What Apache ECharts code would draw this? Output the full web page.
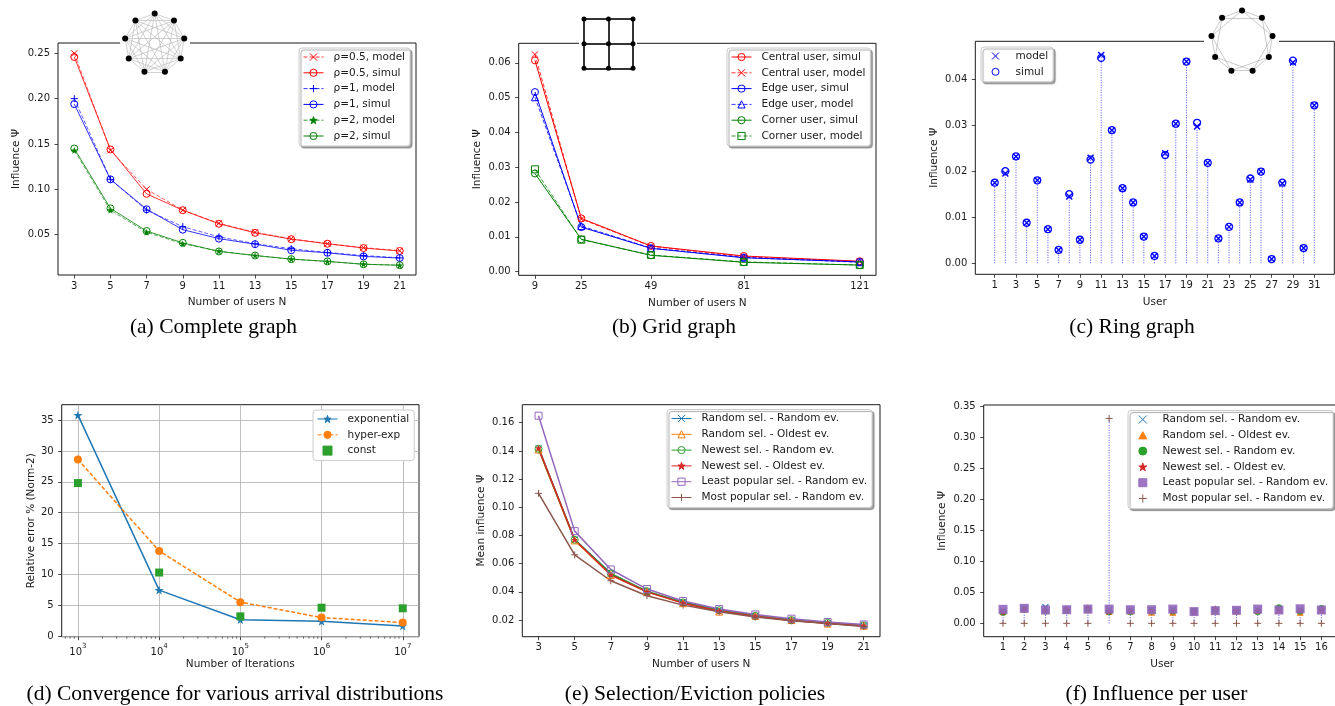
<!DOCTYPE html>
<html>
<head>
<meta charset="utf-8">
<script src="https://cdn.jsdelivr.net/npm/echarts@6/dist/echarts.min.js"></script>
<style>
  html, body { margin: 0; background: #fff; }
  #chart { width: 1335px; height: 706px; }
</style>
</head>
<body>
<div id="chart"></div>
<script>
// ---- (a) complete graph ----
const usersA = [3, 5, 7, 9, 11, 13, 15, 17, 19, 21];
const rho05Model = [0.250, 0.143, 0.100, 0.077, 0.0625, 0.0526, 0.0455, 0.040, 0.0357, 0.0323];
const rho05Simul = [0.246, 0.144, 0.095, 0.077, 0.062, 0.052, 0.045, 0.040, 0.0352, 0.032];
const rho1Model = [0.200, 0.111, 0.077, 0.0588, 0.0476, 0.040, 0.0345, 0.0303, 0.027, 0.0244];
const rho1Simul = [0.194, 0.111, 0.078, 0.0555, 0.0456, 0.0395, 0.0328, 0.030, 0.026, 0.0242];
const rho2Model = [0.143, 0.077, 0.0526, 0.040, 0.0318, 0.027, 0.023, 0.0204, 0.0175, 0.0162];
const rho2Simul = [0.145, 0.079, 0.054, 0.041, 0.0315, 0.027, 0.023, 0.0205, 0.0173, 0.0163];

// ---- (b) grid graph ----
const usersB = [9, 25, 49, 81, 121];
const centralSimul = [0.0607, 0.0153, 0.0074, 0.0045, 0.0030];
const centralModel = [0.0624, 0.0151, 0.0073, 0.0043, 0.0029];
const edgeSimul = [0.0516, 0.0128, 0.0067, 0.0040, 0.0028];
const edgeModel = [0.0501, 0.0131, 0.0068, 0.0041, 0.0027];
const cornerSimul = [0.0282, 0.0093, 0.0047, 0.0027, 0.0019];
const cornerModel = [0.0294, 0.0092, 0.0048, 0.0028, 0.0019];

// ---- (c) ring graph ----
const usersC = [1, 2, 3, 4, 5, 6, 7, 8, 9, 10, 11, 12, 13, 14, 15, 16, 17, 18, 19, 20, 21, 22, 23, 24, 25, 26, 27, 28, 29, 30, 31];
const ringModel = [0.0175, 0.0195, 0.0232, 0.0088, 0.0180, 0.0074, 0.0029, 0.0145, 0.0051, 0.0229, 0.0452, 0.0289, 0.0163, 0.0132, 0.0058, 0.0016,
                   0.0239, 0.0303, 0.0438, 0.0297, 0.0218, 0.0054, 0.0079, 0.0132, 0.0182, 0.0199, 0.0009, 0.0173, 0.0436, 0.0033, 0.0343];
const ringSimul = [0.0175, 0.0200, 0.0232, 0.0088, 0.0180, 0.0074, 0.0029, 0.0150, 0.0051, 0.0225, 0.0446, 0.0289, 0.0163, 0.0132, 0.0058, 0.0016,
                   0.0235, 0.0303, 0.0438, 0.0305, 0.0218, 0.0054, 0.0079, 0.0132, 0.0184, 0.0199, 0.0009, 0.0175, 0.0440, 0.0033, 0.0343];

// ---- (d) convergence ----
const iterations = [1e3, 1e4, 1e5, 1e6, 1e7];
const errExp = [35.8, 7.45, 2.65, 2.4, 1.65];
const errHyper = [28.6, 13.8, 5.5, 3.0, 2.2];
const errConst = [24.8, 10.3, 3.2, 4.6, 4.5];

// ---- (e) selection / eviction policies ----
const usersE = [3, 5, 7, 9, 11, 13, 15, 17, 19, 21];
const eRandRand = [0.142, 0.0772, 0.0531, 0.0400, 0.0328, 0.0271, 0.0231, 0.0200, 0.0179, 0.0160];
const eRandOld = [0.141, 0.0765, 0.0520, 0.0400, 0.0320, 0.0260, 0.0230, 0.0200, 0.0175, 0.0160];
const eNewRand = [0.1415, 0.0770, 0.0530, 0.0405, 0.0325, 0.0270, 0.0230, 0.0200, 0.0180, 0.0163];
const eNewOld = [0.142, 0.0770, 0.0520, 0.0400, 0.0320, 0.0265, 0.0227, 0.0197, 0.0178, 0.0160];
const eLeastPop = [0.165, 0.0831, 0.0559, 0.0420, 0.0335, 0.0278, 0.0240, 0.0210, 0.0186, 0.0169];
const eMostPop = [0.1099, 0.0663, 0.0479, 0.0373, 0.0306, 0.0259, 0.0221, 0.0195, 0.0176, 0.0155];

// ---- (f) influence per user ----
const usersF = [1, 2, 3, 4, 5, 6, 7, 8, 9, 10, 11, 12, 13, 14, 15, 16];
const fRandRand = [0.020, 0.024, 0.026, 0.022, 0.023, 0.022, 0.021, 0.022, 0.022, 0.019, 0.021, 0.021, 0.022, 0.022, 0.022, 0.021];
const fRandOld = [0.019, 0.023, 0.021, 0.021, 0.022, 0.019, 0.020, 0.018, 0.018, 0.019, 0.020, 0.020, 0.021, 0.021, 0.018, 0.021];
const fNewRand = [0.018, 0.023, 0.020, 0.021, 0.022, 0.019, 0.019, 0.020, 0.020, 0.019, 0.021, 0.020, 0.019, 0.025, 0.020, 0.024];
const fNewOld = [0.018, 0.024, 0.021, 0.024, 0.026, 0.019, 0.020, 0.021, 0.020, 0.019, 0.024, 0.020, 0.020, 0.021, 0.021, 0.022];
const fLeastPop = [0.0226, 0.0242, 0.0215, 0.022, 0.023, 0.023, 0.022, 0.022, 0.023, 0.019, 0.0205, 0.021, 0.023, 0.0215, 0.0235, 0.0215];
const fMostPop = [0, 0, 0, 0, 0, 0.331, 0, 0, 0, 0, 0, 0, 0, 0, 0, 0];

// tick labels
const ticksA = [0.05, 0.10, 0.15, 0.20, 0.25];
const ticksB = [0.00, 0.01, 0.02, 0.03, 0.04, 0.05, 0.06];
const ticksC = [0.00, 0.01, 0.02, 0.03, 0.04];
const ticksD = [0, 5, 10, 15, 20, 25, 30, 35];
const ticksE = [0.02, 0.04, 0.06, 0.08, 0.10, 0.12, 0.14, 0.16];
const ticksF = [0.00, 0.05, 0.10, 0.15, 0.20, 0.25, 0.30, 0.35];
const ticksUserC = [1, 3, 5, 7, 9, 11, 13, 15, 17, 19, 21, 23, 25, 27, 29, 31];
const decadesD = [3, 4, 5, 6, 7];
const minorD = [];
[2, 3, 4, 5, 6].forEach(d => [2, 3, 4, 5, 6, 7, 8, 9].forEach(k => {
  const v = Math.log10(k * Math.pow(10, d));
  if (v > 2.8 && v < 7.2) minorD.push(v);
}));

const FONT = 'DejaVu Sans';
const INK = '#1a1a1a';
const RED = '#ff0000', BLUE = '#0000ff', GREEN = '#008000';
const C10 = { blue: '#1f77b4', orange: '#ff7f0e', green: '#2ca02c', red: '#d62728', purple: '#9467bd', brown: '#8c564b' };
const X_MARK = 'path://M0,0L10,10M10,0L0,10';
const PLUS_MARK = 'path://M5,0L5,10M0,5L10,5';
const STAR_MARK = 'path://M50,0L61.2,34.5L97.6,34.5L68.2,55.9L79.4,90.5L50,69.1L20.6,90.5L31.8,55.9L2.4,34.5L38.8,34.5Z';
const SQUARE_ICON = 'path://M0,0L10,0L10,10L0,10Z';
const TRI_ICON = 'path://M5,0L10,9L0,9Z';

const pairs = (xs, ys) => xs.map((x, i) => [x, ys[i]]);
const fmt2 = v => v.toFixed(2);

function mk(symbol, color, size, filled, opacity, bw) {
  return {
    symbol: symbol, symbolSize: size,
    itemStyle: { color: filled ? color : 'rgba(0,0,0,0)', borderColor: color, borderWidth: filled ? 0 : (bw || 1), opacity: opacity || 1 }
  };
}

function line(p, name, xs, ys, color, m, dashed, width, opacity) {
  return Object.assign({
    type: 'line', name: p + '|' + name,
    xAxisIndex: 'abcdef'.indexOf(p), yAxisIndex: 'abcdef'.indexOf(p),
    data: pairs(xs, ys), showSymbol: true, silent: true, z: 3,
    lineStyle: { color: color, width: width, type: dashed ? [4, 2] : 'solid', opacity: opacity || 1 },
    emphasis: { disabled: true }
  }, m);
}

function dots(p, name, xs, ys, m, z) {
  return Object.assign({
    type: 'scatter', name: p + '|' + name,
    xAxisIndex: 'abcdef'.indexOf(p), yAxisIndex: 'abcdef'.indexOf(p),
    data: pairs(xs, ys), silent: true, z: z || 3,
    emphasis: { disabled: true }
  }, m);
}

function stems(p, xs, ys) {
  return {
    type: 'custom', silent: true, z: 2,
    xAxisIndex: 'abcdef'.indexOf(p), yAxisIndex: 'abcdef'.indexOf(p),
    data: pairs(xs, ys),
    renderItem: (params, api) => {
      const top = api.coord([api.value(0), api.value(1)]);
      const base = api.coord([api.value(0), 0]);
      return {
        type: 'line',
        shape: { x1: base[0], y1: base[1], x2: top[0], y2: top[1] },
        style: { stroke: BLUE, lineWidth: 1, lineDash: [1, 1.5], opacity: 0.7 }
      };
    }
  };
}

function axis(grid, dir, min, max, ticks, fmt, name, gap, opts) {
  opts = opts || {};
  return {
    type: 'value', gridIndex: grid, min: min, max: max,
    position: dir === 'x' ? 'bottom' : 'left',
    name: name, nameLocation: 'middle', nameGap: gap, nameRotate: dir === 'y' ? 90 : 0,
    nameTextStyle: { fontFamily: FONT, fontSize: 10.5, color: INK },
    axisLine: { show: false, onZero: false },
    axisTick: { show: true, inside: false, length: 3.5, customValues: ticks, lineStyle: { color: INK, width: 0.8 } },
    axisLabel: {
      customValues: ticks, formatter: fmt, margin: dir === 'x' ? 6 : 8,
      fontFamily: FONT, fontSize: 10, color: INK, rich: opts.rich
    },
    splitLine: { show: !!opts.split, lineStyle: { color: '#b0b0b0', width: 0.8 } }
  };
}

function legend(names, left, top, shadow, o) {
  o = o || {};
  return {
    data: names, orient: 'vertical', left: left, top: top,
    itemWidth: o.w || 20, itemHeight: o.h || 9, itemGap: 3.8,
    padding: [3, 5, 4, o.padL || 4], selectedMode: false,
    formatter: n => n.split('|')[1],
    textStyle: { fontFamily: FONT, fontSize: 10.5, color: INK, lineHeight: 12, padding: [0, 0, 0, o.tp || 5] },
    itemStyle: { borderWidth: 1 },
    lineStyle: { width: 1 },
    backgroundColor: '#fff', borderColor: '#cccccc', borderWidth: 1, borderRadius: 3,
    shadowColor: shadow ? 'rgba(0,0,0,0.35)' : 'rgba(0,0,0,0)',
    shadowBlur: shadow ? 1 : 0, shadowOffsetX: shadow ? 2 : 0, shadowOffsetY: shadow ? 2 : 0
  };
}

const frame = { show: true, borderColor: INK, borderWidth: 1, backgroundColor: 'rgba(0,0,0,0)', outerBoundsMode: 'none' };
const grids = [
  Object.assign({ left: 58, top: 43, width: 358, height: 232 }, frame),
  Object.assign({ left: 518.7, top: 43.3, width: 357.3, height: 232 }, frame),
  Object.assign({ left: 975.3, top: 41.3, width: 359, height: 233 }, frame),
  Object.assign({ left: 61.7, top: 404.7, width: 357.3, height: 232 }, frame),
  Object.assign({ left: 522.3, top: 404.7, width: 357.7, height: 232 }, frame),
  Object.assign({ left: 983.7, top: 405, width: 357, height: 231.7 }, frame),
  { left: 584, top: 19, width: 49, height: 49.3, show: false, outerBoundsMode: 'none' }
];

const powRich = {
  b: { fontFamily: FONT, fontSize: 10, color: INK, padding: [5, 0, 0, 0] },
  s: { fontFamily: FONT, fontSize: 7, color: INK, verticalAlign: 'top' }
};

const xAxes = [
  axis(0, 'x', 2.1, 21.9, usersA, String, 'Number of users N', 22),
  axis(1, 'x', 3.4, 126.6, usersB, String, 'Number of users N', 22),
  axis(2, 'x', -0.82, 32.88, ticksUserC, String, 'User', 22),
  axis(3, 'x', 2.8, 7.2, decadesD, v => '{b|10}{s|' + v + '}', 'Number of Iterations', 22, { split: true, rich: powRich }),
  axis(4, 'x', 2.1, 21.9, usersE, String, 'Number of users N', 22),
  axis(5, 'x', 0.09, 16.91, usersF, String, 'User', 22),
  { type: 'value', gridIndex: 6, min: 0, max: 2, show: false }
];
const yAxes = [
  axis(0, 'y', 0.0055, 0.2614, ticksA, fmt2, 'Influence Ψ', 36),
  axis(1, 'y', -0.00104, 0.0656, ticksB, fmt2, 'Influence Ψ', 36),
  axis(2, 'y', -0.0024, 0.0482, ticksC, fmt2, 'Influence Ψ', 36),
  axis(3, 'y', -0.1, 37.5, ticksD, String, 'Relative error % (Norm-2)', 24, { split: true }),
  axis(4, 'y', 0.0082, 0.1728, ticksE, fmt2, 'Mean influence Ψ', 36),
  axis(5, 'y', -0.0216, 0.3527, ticksF, fmt2, 'Influence Ψ', 36),
  { type: 'value', gridIndex: 6, min: 0, max: 2, show: false }
];

// inset graphs (decorative pictures above the plots)
const ringNodes = [0, 1, 2, 3, 4, 5, 6, 7, 8];
const completeLinks = [];
ringNodes.forEach(i => ringNodes.forEach(j => { if (j > i) completeLinks.push({ source: i, target: j }); }));
const ringLinks = [];
ringNodes.forEach(i => { ringLinks.push({ source: i, target: (i + 1) % 9 }); ringLinks.push({ source: i, target: (i + 2) % 9 }); });
const gridCells = [[0, 2], [1, 2], [2, 2], [0, 1], [1, 1], [2, 1], [0, 0], [1, 0], [2, 0]];
const gridLinks = [[0, 1], [1, 2], [3, 4], [4, 5], [6, 7], [7, 8], [0, 3], [3, 6], [1, 4], [4, 7], [2, 5], [5, 8]]
  .map(e => ({ source: e[0], target: e[1] }));

function inset(extra, nodes, links, edgeColor, edgeWidth, nodeSize) {
  return Object.assign({
    type: 'graph', layout: 'none', silent: true, z: 30,
    data: nodes, links: links, symbolSize: nodeSize,
    itemStyle: { color: '#000' },
    lineStyle: { color: edgeColor, width: edgeWidth, opacity: 1, curveness: 0 },
    label: { show: false }, emphasis: { disabled: true }
  }, extra);
}

const series = [
  // (a)
  line('a', 'ρ=0.5, model', usersA, rho05Model, RED, mk(X_MARK, RED, 6, false), true, 0.8, 0.8),
  line('a', 'ρ=0.5, simul', usersA, rho05Simul, RED, mk('circle', RED, 7, false), false, 0.8),
  line('a', 'ρ=1, model', usersA, rho1Model, BLUE, mk(PLUS_MARK, BLUE, 7, false), true, 0.8, 0.8),
  line('a', 'ρ=1, simul', usersA, rho1Simul, BLUE, mk('circle', BLUE, 7, false), false, 0.8),
  line('a', 'ρ=2, model', usersA, rho2Model, GREEN, mk(STAR_MARK, GREEN, 7, true), true, 0.8, 0.8),
  line('a', 'ρ=2, simul', usersA, rho2Simul, GREEN, mk('circle', GREEN, 7, false), false, 0.8),
  // (b)
  line('b', 'Central user, simul', usersB, centralSimul, RED, mk('circle', RED, 7, false), false, 1),
  line('b', 'Central user, model', usersB, centralModel, RED, mk(X_MARK, RED, 6, false), true, 1, 0.8),
  line('b', 'Edge user, simul', usersB, edgeSimul, BLUE, mk('circle', BLUE, 7, false), false, 1),
  line('b', 'Edge user, model', usersB, edgeModel, BLUE, mk('triangle', BLUE, 7, false), true, 1, 0.8),
  line('b', 'Corner user, simul', usersB, cornerSimul, GREEN, mk('circle', GREEN, 7, false), false, 1),
  line('b', 'Corner user, model', usersB, cornerModel, GREEN, mk('rect', GREEN, 7, false), true, 1, 0.8),
  // (c)
  stems('c', usersC, ringModel.map((v, i) => Math.max(v, ringSimul[i]))),
  dots('c', 'model', usersC, ringModel, mk(X_MARK, BLUE, 6, false, 1, 1.4)),
  dots('c', 'simul', usersC, ringSimul, mk('circle', BLUE, 7, false, 1, 1.3)),
  // (d)
  line('d', 'exponential', iterations.map(Math.log10), errExp, C10.blue, mk(STAR_MARK, C10.blue, 9, true), false, 1.5),
  line('d', 'hyper-exp', iterations.map(Math.log10), errHyper, C10.orange, mk('circle', C10.orange, 8, true), true, 1.5),
  dots('d', 'const', iterations.map(Math.log10), errConst, mk('rect', C10.green, 8, true)),
  {
    type: 'custom', silent: true, xAxisIndex: 3, yAxisIndex: 3,
    data: minorD.map(v => [v, -0.1]),
    renderItem: (params, api) => {
      const p = api.coord([api.value(0), api.value(1)]);
      return { type: 'line', shape: { x1: p[0], y1: p[1], x2: p[0], y2: p[1] + 2 }, style: { stroke: INK, lineWidth: 0.6 } };
    }
  },
  // (e)
  line('e', 'Random sel. - Random ev.', usersE, eRandRand, C10.blue, mk(X_MARK, C10.blue, 6, false), false, 1.5),
  line('e', 'Random sel. - Oldest ev.', usersE, eRandOld, C10.orange, mk('triangle', C10.orange, 7, false), false, 1.5),
  line('e', 'Newest sel. - Random ev.', usersE, eNewRand, C10.green, mk('circle', C10.green, 7, false), false, 1.5),
  line('e', 'Newest sel. - Oldest ev.', usersE, eNewOld, C10.red, mk(STAR_MARK, C10.red, 7, true), false, 1.5),
  line('e', 'Least popular sel. - Random ev.', usersE, eLeastPop, C10.purple, mk('rect', C10.purple, 7, false), false, 1.5),
  line('e', 'Most popular sel. - Random ev.', usersE, eMostPop, C10.brown, mk(PLUS_MARK, C10.brown, 7, false), false, 1.5),
  // (f)
  stems('f', usersF, usersF.map((u, i) => Math.max(fRandRand[i], fRandOld[i], fNewRand[i], fNewOld[i], fLeastPop[i], fMostPop[i]))),
  dots('f', 'Random sel. - Random ev.', usersF, fRandRand, mk(X_MARK, C10.blue, 6, false, 1, 1.3), 3),
  dots('f', 'Random sel. - Oldest ev.', usersF, fRandOld, mk('triangle', C10.orange, 7, true), 4),
  dots('f', 'Newest sel. - Random ev.', usersF, fNewRand, mk('circle', C10.green, 7, true), 5),
  dots('f', 'Newest sel. - Oldest ev.', usersF, fNewOld, mk(STAR_MARK, C10.red, 7, true), 6),
  dots('f', 'Least popular sel. - Random ev.', usersF, fLeastPop, mk('rect', C10.purple, 9, true, 0.9), 7),
  dots('f', 'Most popular sel. - Random ev.', usersF, fMostPop, mk(PLUS_MARK, C10.brown, 7, false), 8),
  // insets
  inset({ coordinateSystem: 'polar', polarIndex: 0 }, ringNodes.map(i => ({ value: [1, i * 40] })), completeLinks, '#b3b3b3', 0.6, 6),
  inset({ coordinateSystem: 'polar', polarIndex: 1 }, ringNodes.map(i => ({ value: [1, i * 40] })), ringLinks, '#a6a6a6', 0.6, 6),
  inset({ coordinateSystem: 'cartesian2d', xAxisIndex: 6, yAxisIndex: 6 }, gridCells.map(c => ({ value: c })), gridLinks, '#000', 1.6, 5)
];

const namesOf = (p, list) => list.map(n => p + '|' + n);
const policies = ['Random sel. - Random ev.', 'Random sel. - Oldest ev.', 'Newest sel. - Random ev.',
                  'Newest sel. - Oldest ev.', 'Least popular sel. - Random ev.', 'Most popular sel. - Random ev.'];
const policyIcons = [X_MARK, TRI_ICON, 'circle', STAR_MARK, SQUARE_ICON, PLUS_MARK];

const captions = [
  ['(a) Complete graph', 213.5, 327],
  ['(b) Grid graph', 674, 327],
  ['(c) Ring graph', 1132, 327],
  ['(d) Convergence for various arrival distributions', 235, 694],
  ['(e) Selection/Eviction policies', 695, 694],
  ['(f) Influence per user', 1156.5, 694]
];

const option = {
  animation: false,
  backgroundColor: '#fff',
  grid: grids,
  xAxis: xAxes,
  yAxis: yAxes,
  polar: [
    { center: [154.7, 43.6], radius: 30 },
    { center: [1242, 41.5], radius: 31 }
  ],
  angleAxis: [
    { polarIndex: 0, type: 'value', min: 0, max: 360, startAngle: 90, show: false },
    { polarIndex: 1, type: 'value', min: 0, max: 360, startAngle: 90, show: false }
  ],
  radiusAxis: [
    { polarIndex: 0, type: 'value', min: 0, max: 1, show: false },
    { polarIndex: 1, type: 'value', min: 0, max: 1, show: false }
  ],
  legend: [
    legend(namesOf('a', ['ρ=0.5, model', 'ρ=0.5, simul', 'ρ=1, model', 'ρ=1, simul', 'ρ=2, model', 'ρ=2, simul']), 299, 48, true),
    legend(namesOf('b', ['Central user, simul', 'Central user, model', 'Edge user, simul', 'Edge user, model', 'Corner user, simul', 'Corner user, model']), 727, 48, true),
    legend(namesOf('c', ['model', 'simul']), 981, 47, true, { w: 7, h: 7, padL: 10.5, tp: 11.5 }),
    legend(namesOf('d', ['exponential', 'hyper-exp']).concat([{ name: 'd|const', icon: SQUARE_ICON }]), 313, 410, false),
    legend(namesOf('e', policies), 667, 409.5, true),
    legend(namesOf('f', policies).map((n, i) => ({ name: n, icon: policyIcons[i] })), 1128, 410.5, true, { w: 8, h: 8, padL: 10.3, tp: 10.7 })
  ],
  graphic: [
    { type: 'rect', z: 10, shape: { x: 120, y: 38, width: 70, height: 10 }, style: { fill: '#fff' } },
    { type: 'rect', z: 10, shape: { x: 579, y: 38, width: 58, height: 10 }, style: { fill: '#fff' } },
    { type: 'rect', z: 10, shape: { x: 1204, y: 36, width: 75, height: 10 }, style: { fill: '#fff' } }
  ].concat(captions.map(c => ({
    type: 'text', x: c[1], y: c[2], z: 50,
    style: { text: c[0], fontFamily: 'Liberation Serif', fontSize: 21.5, fill: '#000', align: 'center', verticalAlign: 'middle' }
  }))),
  series: series
};

const chart = echarts.init(document.getElementById('chart'));
chart.setOption(option);
</script>
</body>
</html>
